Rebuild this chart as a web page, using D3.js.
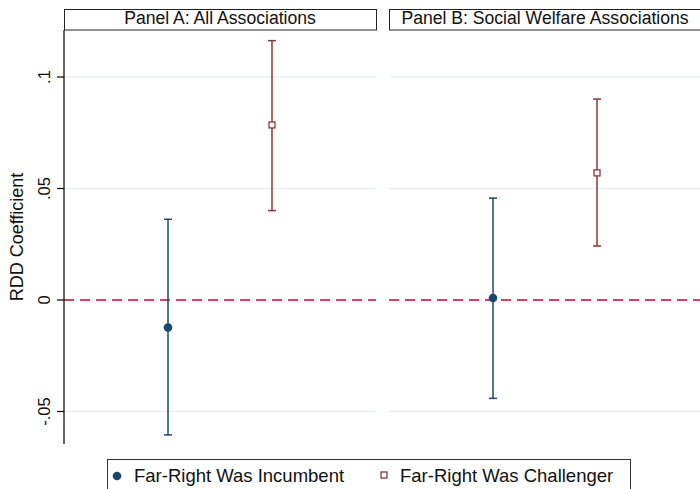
<!DOCTYPE html>
<html><head><meta charset="utf-8">
<script src="https://cdn.jsdelivr.net/npm/d3@7"></script>
<style>body{margin:0;background:#fff}svg{display:block;font-family:"Liberation Sans",Arial,sans-serif}</style>
</head><body>
<svg id="c" width="700" height="489"></svg>
<script>
const panels = ["Panel A: All Associations", "Panel B: Social Welfare Associations"];
const seriesNames = ["Far-Right Was Incumbent", "Far-Right Was Challenger"];
const coefIncumbent = [-0.0123, 0.0009];
const lowIncumbent = [-0.0605, -0.0441];
const highIncumbent = [0.0362, 0.0457];
const coefChallenger = [0.0785, 0.0570];
const lowChallenger = [0.0401, 0.0242];
const highChallenger = [0.1163, 0.0901];
const yTicks = [-0.05, 0, 0.05, 0.1];
const yTickLabels = ["-.05", "0", ".05", ".1"];

const svg = d3.select("#c");
const colors = ["#1a476f", "#90353b"];
const plotTop = 30, plotBottom = 444;
const y = d3.scaleLinear().domain([-0.05, 0.1]).range([411.5, 77]);
const panelX = d3.scaleBand().domain(panels).range([64, 701]).paddingInner(0.04).paddingOuter(0);
const series = [
  {coef: coefIncumbent, low: lowIncumbent, high: highIncumbent},
  {coef: coefChallenger, low: lowChallenger, high: highChallenger}
];

panels.forEach((p, i) => {
  const x0 = Math.round(panelX(p)), w = Math.round(panelX.bandwidth());
  const g = svg.append("g");
  const x = d3.scalePoint().domain(seriesNames).range([x0 + w/3, x0 + 2*w/3]);
  g.selectAll("line.grid").data(yTicks.filter(t => t !== 0)).join("line")
    .attr("x1", x0).attr("x2", x0 + w).attr("y1", d => y(d)).attr("y2", d => y(d))
    .attr("stroke", "#eaf2f3").attr("stroke-width", 1.3);
  g.append("line").attr("x1", x0).attr("x2", x0 + w).attr("y1", y(0)).attr("y2", y(0))
    .attr("stroke", "#d0002f").attr("stroke-width", 1.6).attr("stroke-dasharray", "10,6");
  g.append("rect").attr("x", x0 + 0.5).attr("y", 9.5).attr("width", w).attr("height", 20.5)
    .attr("fill", "#fff").attr("stroke", "#222").attr("stroke-width", 1);
  g.append("text").attr("x", x0 + w/2).attr("y", 24).attr("text-anchor", "middle")
    .attr("font-size", 17.6).attr("fill", "#111").text(p);
  series.forEach((s, k) => {
    const cx = x(seriesNames[k]);
    g.append("line").attr("x1", cx).attr("x2", cx).attr("y1", y(s.low[i])).attr("y2", y(s.high[i]))
      .attr("stroke", colors[k]).attr("stroke-width", 1.5);
    [s.low[i], s.high[i]].forEach(v => {
      g.append("line").attr("x1", cx - 4).attr("x2", cx + 4).attr("y1", y(v)).attr("y2", y(v))
        .attr("stroke", colors[k]).attr("stroke-width", 1.5);
    });
    if (k === 0) {
      g.append("circle").attr("cx", cx).attr("cy", y(s.coef[i])).attr("r", 4.3).attr("fill", colors[k]);
    } else {
      g.append("rect").attr("x", cx - 3).attr("y", y(s.coef[i]) - 3).attr("width", 6).attr("height", 6)
        .attr("fill", "#fff").attr("stroke", colors[k]).attr("stroke-width", 1.3);
    }
  });
});

const ax = svg.append("g").attr("transform", "translate(64,0)");
ax.append("line").attr("x1", 0).attr("x2", 0).attr("y1", plotTop).attr("y2", plotBottom).attr("stroke", "#000").attr("stroke-width", 1.2);
ax.selectAll("line.tick").data(yTicks).join("line")
  .attr("x1", -7).attr("x2", 0).attr("y1", d => y(d)).attr("y2", d => y(d))
  .attr("stroke", "#000").attr("stroke-width", 1.2);
ax.selectAll("text.tick").data(yTicks).join("text")
  .attr("transform", d => `translate(-14,${y(d)}) rotate(-90)`)
  .attr("text-anchor", "middle").attr("font-size", 16.5).attr("fill", "#111")
  .text((d, i) => yTickLabels[i]);
svg.append("text").attr("transform", `translate(23,${(plotTop + plotBottom)/2}) rotate(-90)`)
  .attr("text-anchor", "middle").attr("font-size", 18).attr("fill", "#111").text("RDD Coefficient");

const lg = svg.append("g");
lg.append("rect").attr("x", 107.5).attr("y", 459.5).attr("width", 523).attr("height", 40)
  .attr("fill", "#fff").attr("stroke", "#333").attr("stroke-width", 1);
lg.append("circle").attr("cx", 117).attr("cy", 476).attr("r", 4.3).attr("fill", colors[0]);
lg.append("text").attr("x", 134).attr("y", 482).attr("font-size", 18.5).attr("fill", "#111").text(seriesNames[0]);
lg.append("rect").attr("x", 381).attr("y", 472).attr("width", 6).attr("height", 6)
  .attr("fill", "#fff").attr("stroke", colors[1]).attr("stroke-width", 1.3);
lg.append("text").attr("x", 400).attr("y", 482).attr("font-size", 18.5).attr("fill", "#111").text(seriesNames[1]);
</script>
</body></html>
